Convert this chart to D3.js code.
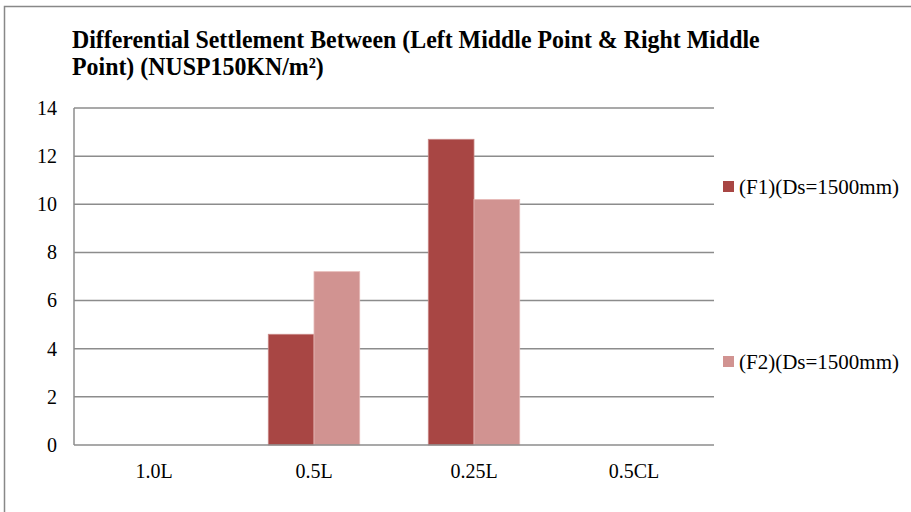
<!DOCTYPE html>
<html><head><meta charset="utf-8">
<script src="https://cdn.jsdelivr.net/npm/d3@7"></script>
<style>body{margin:0;background:#fff}svg{display:block}
svg text{font-family:"Liberation Serif","Times New Roman",Times,serif;}</style>
</head><body>
<script>
const categories = ["1.0L","0.5L","0.25L","0.5CL"];
const seriesNames = ["(F1)(Ds=1500mm)","(F2)(Ds=1500mm)"];
const f1Values = [0, 4.6, 12.7, 0];
const f2Values = [0, 7.2, 10.2, 0];
const yTicks = [0,2,4,6,8,10,12,14];
const colors = ["#A84644","#D19391"];
const titleLines = ["Differential Settlement Between (Left Middle Point & Right Middle","Point) (NUSP150KN/m\u00B2)"];

const W=911,H=512;
const svg=d3.select("body").append("svg").attr("width",W).attr("height",H);
svg.append("rect").attr("x",4.5).attr("y",6.5).attr("width",W+10).attr("height",H+10)
  .attr("fill","#fff").attr("stroke","#888").attr("stroke-width",1.5);

const L=74,R=714,T=108,B=445;
const x0=d3.scaleBand().domain(categories).range([L,R]);
const y=d3.scaleLinear().domain([0,14]).range([B,T]);

// grid
svg.append("g").selectAll("line").data(yTicks.filter(d=>d>0)).join("line")
  .attr("x1",L).attr("x2",R).attr("y1",d=>y(d)).attr("y2",d=>y(d))
  .attr("stroke","#8c8c8c").attr("stroke-width",1.5);

// bars
const band=x0.bandwidth();
const bw=band/3.5;
const xs=d3.scaleBand().domain([0,1]).range([0,2*bw]);
const data=categories.map((c,i)=>({c,vals:[f1Values[i],f2Values[i]]}));
const g=svg.append("g");
data.forEach(d=>{
  d.vals.forEach((v,j)=>{
    if(v<=0) return;
    g.append("rect")
      .attr("x",x0(d.c)+(band-2*bw)/2+xs(j))
      .attr("y",y(v)).attr("width",xs.bandwidth()).attr("height",y(0)-y(v))
      .attr("fill",colors[j]).attr("stroke",j===0?"#c98a88":"#e6b8b6").attr("stroke-width",0.8);
  });
});

// axes lines
svg.append("line").attr("x1",L).attr("x2",L).attr("y1",T).attr("y2",B).attr("stroke","#8c8c8c").attr("stroke-width",1.5);
svg.append("line").attr("x1",L).attr("x2",R).attr("y1",B).attr("y2",B).attr("stroke","#8c8c8c").attr("stroke-width",1.5);

// y labels
const yAxis=d3.axisLeft(y).tickValues(yTicks).tickSize(0).tickPadding(17);
const ya=svg.append("g").attr("transform",`translate(${L},0)`).call(yAxis);
ya.select(".domain").remove();
ya.attr("font-family",null);
ya.selectAll("text").attr("font-size",20).attr("fill","#000");

// x labels
const xAxis=d3.axisBottom(x0).tickSize(0).tickPadding(19);
const xa=svg.append("g").attr("transform",`translate(0,${B})`).call(xAxis);
xa.select(".domain").remove();
xa.attr("font-family",null);
xa.selectAll("text").attr("font-size",20).attr("fill","#000");

// title
const tg=svg.append("g").attr("transform","translate(72,0) scale(0.955,1)");
tg.selectAll("text").data(titleLines).join("text")
  .attr("x",0).attr("y",(d,i)=>48+i*27)
  .attr("font-weight","bold").attr("font-size",25)
  .attr("fill","#000").text(d=>d);

// legend
const leg=svg.append("g");
const ly=[181,356];
seriesNames.forEach((n,i)=>{
  leg.append("rect").attr("x",723).attr("y",ly[i]).attr("width",11).attr("height",11).attr("fill",colors[i]);
  leg.append("text").attr("x",739).attr("y",ly[i]+13).attr("font-size",21).attr("fill","#000").text(n);
});
</script>
</body></html>
